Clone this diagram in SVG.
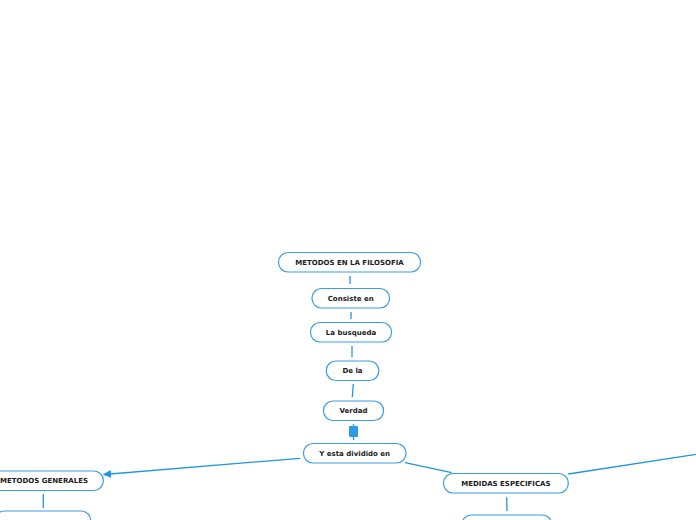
<svg xmlns="http://www.w3.org/2000/svg" width="696" height="520" viewBox="0 0 696 520">
<defs>
<style>
.n rect{fill:#ffffff;stroke:#3a9de6;stroke-width:1.2}
.n text{font-family:"DejaVu Sans",Verdana,sans-serif;font-weight:bold;font-size:7px;fill:#1a1a1a;text-anchor:middle}
.c line{stroke:#2196e0;stroke-width:1.3;fill:none}
</style>
<marker id="ah" markerWidth="8" markerHeight="8" refX="7" refY="4" orient="auto" markerUnits="userSpaceOnUse">
<path d="M0,0 L8,4 L0,8 Z" fill="#2196e0"/>
</marker>
</defs>
<rect width="696" height="520" fill="#ffffff"/>
<g id="connectors" class="c">
<line x1="350" y1="276" x2="350" y2="284"/>
<line x1="351" y1="312" x2="351" y2="319"/>
<line x1="352" y1="346" x2="352" y2="357"/>
<line x1="353.3" y1="384" x2="352.3" y2="397"/>
<line x1="353.5" y1="424" x2="353.5" y2="440"/>
<line x1="300" y1="458.3" x2="104" y2="474.5" marker-end="url(#ah)"/>
<line x1="405" y1="462.7" x2="451.7" y2="472.7"/>
<line x1="568.3" y1="474" x2="696" y2="454.3"/>
<line x1="43.3" y1="494" x2="43.3" y2="508.3"/>
<line x1="506.7" y1="497.3" x2="507" y2="511"/>
<rect x="349" y="426" width="9" height="11" rx="1" fill="#2b9be6" stroke="none"/>
</g>
<g id="n1" class="n"><rect x="278.5" y="252.5" width="142" height="19.5" rx="9.5"/><text x="349.5" y="264.8">METODOS EN LA FILOSOFIA</text></g>
<g id="n2" class="n"><rect x="312" y="288.5" width="77.5" height="19.5" rx="9.5"/><text x="350.7" y="300.8">Consiste en</text></g>
<g id="n3" class="n"><rect x="310.5" y="322.5" width="81" height="19.5" rx="9.5"/><text x="351" y="334.8">La busqueda</text></g>
<g id="n4" class="n"><rect x="326.3" y="361" width="52.5" height="19.5" rx="9.5"/><text x="352.5" y="373.3">De la</text></g>
<g id="n5" class="n"><rect x="323.5" y="401" width="60" height="19.5" rx="9.5"/><text x="353.5" y="413.3">Verdad</text></g>
<g id="n6" class="n"><rect x="303.5" y="443.5" width="102.5" height="19.5" rx="9.5"/><text x="354.7" y="455.8">Y esta dividido en</text></g>
<g id="n7" class="n"><rect x="-15" y="471" width="118.3" height="19.5" rx="9.5"/><text x="44" y="483.3">METODOS GENERALES</text></g>
<g id="n8" class="n"><rect x="443.5" y="473.5" width="124.8" height="19.5" rx="9.5"/><text x="505.9" y="485.8">MEDIDAS ESPECIFICAS</text></g>
<g id="n9" class="n"><rect x="-5" y="511" width="95.7" height="19.5" rx="9.5"/></g>
<g id="n10" class="n"><rect x="462" y="515" width="89.7" height="19.5" rx="9.5"/></g>
</svg>
